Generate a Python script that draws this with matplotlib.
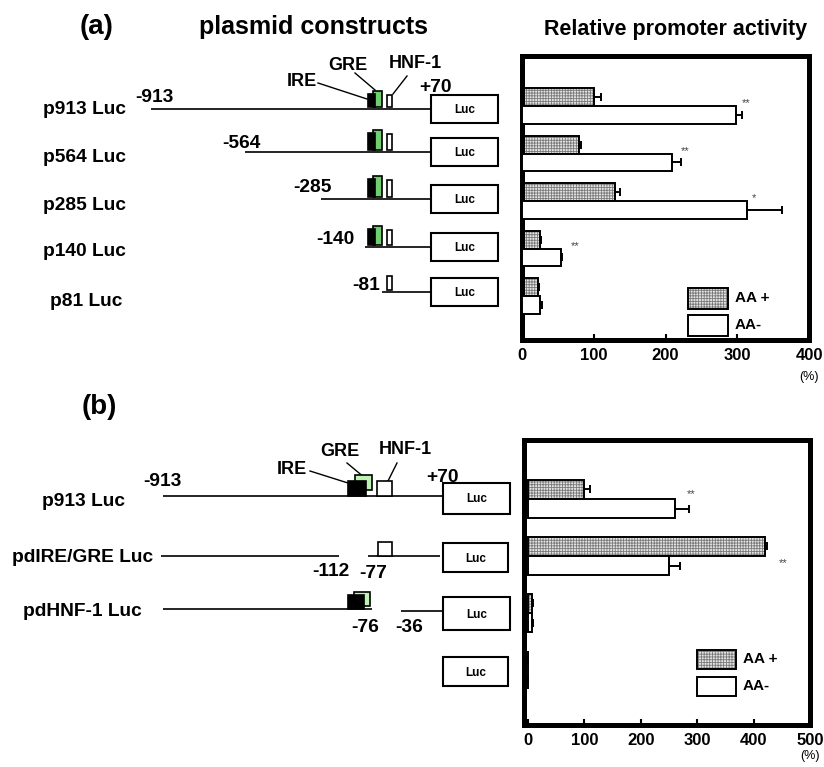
import matplotlib
matplotlib.use('Agg')
import matplotlib.pyplot as plt
from matplotlib.patches import Rectangle

plt.rcParams['font.family'] = ['Liberation Sans', 'DejaVu Sans']
plt.rcParams['font.weight'] = 'bold'
plt.rcParams['hatch.linewidth'] = 0.6

# ---- données (a) : délétions 5'
constructs_a = ['p913 Luc', 'p564 Luc', 'p285 Luc', 'p140 Luc', 'p81 Luc']
starts_a = ['-913', '-564', '-285', '-140', '-81']
aa_plus_a = [100, 80, 130, 25, 22]
aa_plus_err_a = [10, 2, 6, 2, 1]
aa_minus_a = [298, 209, 314, 55, 25]
aa_minus_err_a = [9, 13, 48, 1, 3]
stars_a = ['**', '**', '*', '**', '']
star_x_a = [313, 228, 323, 74, 0]

# ---- données (b) : délétions internes
constructs_b = ['p913 Luc', 'pdIRE/GRE Luc', 'pdHNF-1 Luc', '']
aa_plus_b = [100, 421, 7, 0]
aa_plus_err_b = [10, 3, 2, 0]
aa_minus_b = [261, 250, 7, 0]
aa_minus_err_b = [24, 20, 2, 0]
stars_b = ['**', '**', '', '']
star_x_b = [290, 452, 0, 0]
star_dy_b = [-0.08, 0.12, 0, 0]

W, H = 824, 767
fig = plt.figure(figsize=(W / 100, H / 100), dpi=100)

# axe "schéma" en pixels pour les constructions plasmidiques
dg = fig.add_axes([0, 0, 1, 1])
dg.set_xlim(0, W)
dg.set_ylim(H, 0)
dg.axis('off')

FS = 13.8   # taille des libellés du schéma


def px_axes(left, top, right, bottom):
    # convertit un cadre en pixels vers les fractions de la figure
    return [left / W, 1 - bottom / H, (right - left) / W, (bottom - top) / H]


def luc_box(x0, x1, yc, h):
    dg.add_patch(Rectangle((x0, yc - h / 2), x1 - x0, h, fill=False, lw=1.5, ec='black'))
    dg.text((x0 + x1) / 2, yc + 1, 'Luc', ha='center', va='center', fontsize=8.5)


def box(x0, x1, y0, y1, fc, z=3):
    dg.add_patch(Rectangle((x0, y0), x1 - x0, y1 - y0, fc=fc, ec='black', lw=1.2, zorder=z))


def seg(x0, x1, y, lw=1.2):
    dg.plot([x0, x1], [y, y], color='black', lw=lw, solid_capstyle='butt')


green_a = '#6fcf6f'
green_b = '#bdf3b2'

# ---------------- schéma (a)
line_y_a = [109, 152, 199, 247, 292]
line_x0_a = [151, 245, 321, 365, 382]
label_y_a = [109, 157, 205, 251, 301]
num_pos_a = [(154, 98), (241, 144), (312, 188), (335, 239), (366, 286)]
elem_h_a = [13, 17, 18, 16, 15]

for i, name in enumerate(constructs_a):
    ly = line_y_a[i]
    seg(line_x0_a[i], 431, ly)
    luc_box(431, 498, ly, 28)
    dg.text(43 if i < 4 else 50, label_y_a[i], name, ha='left', va='center', fontsize=FS)
    dg.text(num_pos_a[i][0], num_pos_a[i][1], starts_a[i], ha='center', va='center', fontsize=FS)
    bot = ly - 2
    h = elem_h_a[i]
    if i < 4:
        box(373, 382, bot - h - 3, bot, green_a, 3)
        box(368, 375, bot - h, bot, 'black', 4)
    box(387, 392, bot - h + 1, bot, 'white', 3)

dg.text(436, 88, '+70', ha='center', va='center', fontsize=FS)
dg.text(302, 82, 'IRE', ha='center', va='center', fontsize=13)
dg.text(348, 65, 'GRE', ha='center', va='center', fontsize=13)
dg.text(415, 64, 'HNF-1', ha='center', va='center', fontsize=13)
dg.plot([318, 367], [83, 99], color='black', lw=1)
dg.plot([355, 375], [73, 90], color='black', lw=1)
dg.plot([407, 393], [76, 94], color='black', lw=1)

dg.text(97, 27, '(a)', ha='center', va='center', fontsize=20)
dg.text(314, 27, 'plasmid constructs', ha='center', va='center', fontsize=18)
dg.text(676, 30, 'Relative promoter activity', ha='center', va='center', fontsize=15.5)

# ---------------- schéma (b)
dg.text(99, 407, '(b)', ha='center', va='center', fontsize=20)

# p913 Luc
dg.text(42, 502, constructs_b[0], ha='left', va='center', fontsize=FS)
seg(163, 443, 496)
luc_box(443, 510, 498.5, 31)
box(355, 372, 475, 490, green_b, 3)
box(348, 366, 481, 496, 'black', 4)
box(377, 392, 481, 496, 'white', 3)
dg.text(162, 482, '-913', ha='center', va='center', fontsize=FS)
dg.text(443, 477, '+70', ha='center', va='center', fontsize=FS)
dg.text(292, 469, 'IRE', ha='center', va='center', fontsize=13)
dg.text(340, 452, 'GRE', ha='center', va='center', fontsize=13)
dg.text(405, 450, 'HNF-1', ha='center', va='center', fontsize=13)
dg.plot([310, 348], [471, 483], color='black', lw=1)
dg.plot([347, 365], [463, 478], color='black', lw=1)
dg.plot([397, 388], [463, 481], color='black', lw=1)

# pdIRE/GRE Luc
dg.text(12, 557, constructs_b[1], ha='left', va='center', fontsize=FS)
seg(161, 339, 556)
seg(368, 440, 556)
box(378, 392, 542, 556, 'white', 3)
luc_box(443, 508, 557.5, 29)
dg.text(331, 572, '-112', ha='center', va='center', fontsize=FS)
dg.text(373, 573, '-77', ha='center', va='center', fontsize=FS)

# pdHNF-1 Luc
dg.text(23, 611, constructs_b[2], ha='left', va='center', fontsize=FS)
seg(163, 372, 609)
seg(401, 443, 611)
box(354, 370, 592, 606, green_b, 3)
box(348, 364, 595, 609, 'black', 4)
luc_box(443, 510, 613.5, 33)
dg.text(365, 628, '-76', ha='center', va='center', fontsize=FS)
dg.text(409, 628, '-36', ha='center', va='center', fontsize=FS)

# Luc seul
luc_box(443, 508, 671.5, 29)


# ---------------- graphiques à barres
def bar_panel(ax, plus, plus_err, minus, minus_err, h):
    n = len(plus)
    ys = list(range(n))
    y_plus = [y - h / 2 for y in ys]
    y_minus = [y + h / 2 for y in ys]
    ax.barh(y_plus, plus, height=h, color='#e4e4e4', edgecolor='#7a7a7a',
            hatch='++++++', linewidth=0, zorder=2)
    ax.barh(y_plus, plus, height=h, fill=False, edgecolor='black', linewidth=1.4, zorder=3)
    ax.barh(y_minus, minus, height=h, color='white', edgecolor='black', linewidth=1.4, zorder=3)
    ax.errorbar(plus, y_plus, xerr=[[0] * n, plus_err], fmt='none', ecolor='black',
                elinewidth=1.4, capsize=3, capthick=1.4, zorder=4)
    ax.errorbar(minus, y_minus, xerr=[[0] * n, minus_err], fmt='none', ecolor='black',
                elinewidth=1.4, capsize=3, capthick=1.4, zorder=4)
    for s in ax.spines.values():
        s.set_linewidth(3.6)
    ax.set_yticks([])
    ax.tick_params(axis='x', direction='in', length=4, width=1.5, pad=6, labelsize=12)
    for t in ax.get_xticklabels():
        t.set_fontweight('bold')


def legend_boxes(ax, x0, w, y_plus, y_minus, hb):
    ax.add_patch(Rectangle((x0, y_plus), w, hb, transform=ax.transAxes, fc='#e4e4e4',
                           ec='#7a7a7a', hatch='++++++', lw=0, zorder=5))
    ax.add_patch(Rectangle((x0, y_plus), w, hb, transform=ax.transAxes, fill=False,
                           ec='black', lw=1.4, zorder=6))
    ax.add_patch(Rectangle((x0, y_minus), w, hb, transform=ax.transAxes, fc='white',
                           ec='black', lw=1.4, zorder=6))
    ax.text(x0 + w + 0.025, y_plus + hb / 2, 'AA +', transform=ax.transAxes,
            ha='left', va='center', fontsize=11)
    ax.text(x0 + w + 0.025, y_minus + hb / 2, 'AA-', transform=ax.transAxes,
            ha='left', va='center', fontsize=11)


# (a)
ax_a = fig.add_axes(px_axes(522, 56, 809, 340))
h_a = 0.37
bar_panel(ax_a, aa_plus_a, aa_plus_err_a, aa_minus_a, aa_minus_err_a, h_a)
ax_a.set_xlim(0, 400)
ax_a.set_ylim(4.926, -1.053)
ax_a.set_xticks([0, 100, 200, 300, 400])
for i, s in enumerate(stars_a):
    if s:
        ax_a.text(star_x_a[i], i - 0.06, s, ha='center', va='center', fontsize=8,
                  fontweight='normal', color='#444444')
legend_boxes(ax_a, 0.578, 0.139, 0.109, 0.014, 0.075)
dg.text(809, 377, '(%)', ha='center', va='center', fontsize=9, fontweight='normal')

# (b)
ax_b = fig.add_axes(px_axes(524, 440, 810, 725))
h_b = 0.34
bar_panel(ax_b, aa_plus_b, aa_plus_err_b, aa_minus_b, aa_minus_err_b, h_b)
ax_b.set_xlim(-7, 500)
ax_b.set_ylim(3.965, -1.035)
ax_b.set_xticks([0, 100, 200, 300, 400, 500])
for i, s in enumerate(stars_b):
    if s:
        ax_b.text(star_x_b[i], i + star_dy_b[i], s, ha='center', va='center', fontsize=8,
                  fontweight='normal', color='#444444')
legend_boxes(ax_b, 0.605, 0.136, 0.196, 0.102, 0.068)
dg.text(810, 756, '(%)', ha='center', va='center', fontsize=9, fontweight='normal')

fig.savefig('out.png', dpi=100)
